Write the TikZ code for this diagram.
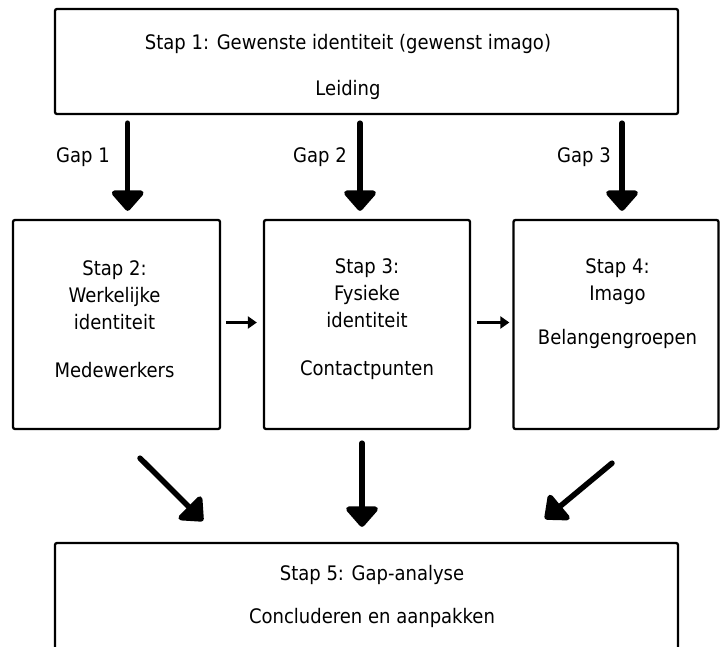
\documentclass[tikz,border=0pt]{standalone}
\usepackage{fontspec}
\setmainfont{DejaVu Sans}[FakeStretch=0.9]
\usetikzlibrary{arrows.meta}

\tikzset{
  stepbox/.style={draw=black, line width=2.3pt, rounded corners=2pt,
                  inner sep=0pt, fill=none},
  txt/.style={align=center, inner sep=0pt,
              font=\fontsize{20}{27}\selectfont},
  bigarrow/.style={line width=5.5pt, line cap=round,
                   -{Triangle[width=37pt,length=22pt,round]}},
  smallarrow/.style={line width=2.8pt,
                   -{Triangle[width=12pt,length=9pt]}},
}

\begin{document}
\begin{tikzpicture}[x=1pt, y=-1pt]
  \useasboundingbox (0,0) rectangle (720,646);

  % boxes
  \node[stepbox, minimum width=623pt, minimum height=105pt] (top) at (366.5,61.5) {};
  \node[stepbox, minimum width=207pt, minimum height=209pt] (b2) at (116.5,324.5) {};
  \node[stepbox, minimum width=206pt, minimum height=209pt] (b3) at (367,324.5) {};
  \node[stepbox, minimum width=205pt, minimum height=209pt] (b4) at (616,324.5) {};
  \node[stepbox, minimum width=623pt, minimum height=160pt] (bot) at (366.5,623) {};

  % box texts
  \node[txt] (t1) at (348,67) {Stap 1: Gewenste identiteit (gewenst imago)\\[19pt]Leiding};
  \node[txt] (t2) at (114.5,319) {Stap 2:\\Werkelijke\\identiteit\\[21pt]Medewerkers};
  \node[txt] (t3) at (367,319) {Stap 3:\\Fysieke\\identiteit\\[21pt]Contactpunten};
  \node[txt] (t4) at (617.5,304) {Stap 4:\\Imago\\[17pt]Belangengroepen};
  \node[txt] (t5) at (372,596.5) {Stap 5: Gap-analyse\\[16pt]Concluderen en aanpakken};

  % gap labels
  \node[txt] (g1) at (83,157) {Gap 1};
  \node[txt] (g2) at (320,157) {Gap 2};
  \node[txt] (g3) at (584,157) {Gap 3};

  % arrows from step 1 down to steps 2-4
  \draw[bigarrow] ([shift={(-238.8,8)}]top.south) -- ([shift={(11.2,-8)}]b2.north);
  \draw[bigarrow] ([shift={(-6.5,8)}]top.south) -- ([shift={(-7,-8)}]b3.north);
  \draw[bigarrow] ([shift={(255.5,8)}]top.south) -- ([shift={(6,-8)}]b4.north);

  % arrows between steps 2, 3 and 4
  \draw[smallarrow] ([shift={(5,-2)}]b2.east) -- ([shift={(-6,-2)}]b3.west);
  \draw[smallarrow] ([shift={(6,-2)}]b3.east) -- ([shift={(-3,-2)}]b4.west);

  % arrows into step 5
  \draw[bigarrow] ([shift={(23.5,28)}]b2.south) -- ([shift={(-163.5,-21)}]bot.north);
  \draw[bigarrow] ([shift={(-5,13)}]b3.south) -- ([shift={(-4.5,-15)}]bot.north);
  \draw[bigarrow] ([shift={(-4,33)}]b4.south) -- ([shift={(178.5,-23)}]bot.north);
\end{tikzpicture}
\end{document}
